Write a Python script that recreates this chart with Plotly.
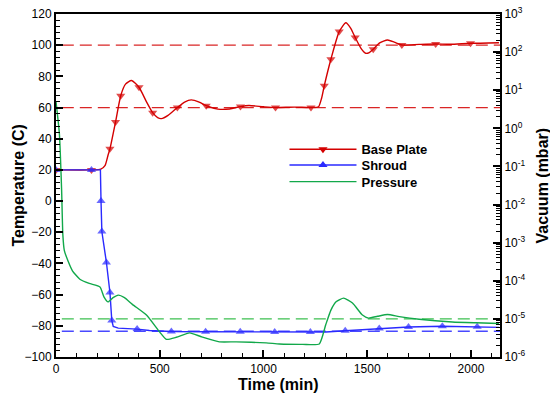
import plotly.graph_objects as go

# ---- data ----
base_t = [0, 171, 216, 236, 251, 260, 287, 312, 335, 364, 400, 435, 466, 490, 508, 540, 585, 620, 652,
          690, 724, 780, 837, 889, 930, 1000, 1058, 1150, 1229, 1265, 1280, 1293, 1325, 1365, 1397, 1420,
          1442, 1470, 1493, 1510, 1529, 1560, 1598, 1630, 1667, 1750, 1830, 1900, 1998, 2135]
base_T = [20, 20, 20.5, 22.7, 29.6, 33.5, 50.8, 67.6, 75, 77.3, 73, 64, 56.7, 53.5, 52.9, 55, 60, 63.5, 64.9,
          63.5, 61.2, 59, 59.1, 60.6, 61.3, 60.5, 60, 60.3, 60, 60.5, 66, 74, 91, 108.7, 114.4, 111,
          105, 98, 94.8, 95.3, 97.4, 101.5, 103.3, 102, 100.1, 100.5, 100.8, 100.6, 101.2, 101.6]
base_marker_t = [0, 171, 260, 287, 312, 400, 466, 585, 724, 889, 1058, 1229, 1293, 1325, 1365, 1442,
                 1529, 1667, 1830, 1998]

shroud_t = [0, 171, 214, 217, 221, 243, 260, 269, 276, 300, 391, 450, 556, 721, 888, 1054, 1226, 1300,
            1394, 1480, 1558, 1699, 1862, 2030, 2135]
shroud_T = [20, 20, 20, 0, -19.5, -39.4, -58.6, -76.6, -80.4, -81.5, -82.1, -83, -83.6, -83.8, -83.8, -84,
            -84, -84, -83.2, -82.5, -81.8, -80.8, -80.3, -80.6, -81]
shroud_marker_t = [0, 171, 217, 221, 243, 260, 269, 391, 556, 721, 888, 1054, 1226, 1394, 1558, 1699,
                   1862, 2030]

press_t = [0, 16, 27, 33, 40, 59, 80, 115, 160, 212, 231, 251, 275, 300, 330, 368, 436, 500, 532, 580,
           644, 700, 788, 869, 1013, 1077, 1189, 1269, 1300, 1325, 1350, 1386, 1429, 1477, 1506, 1550,
           1598, 1654, 1750, 1910, 2023, 2135]
press_P = [5.0, 0.76, 0.025, 1.6e-3, 6.3e-4, 3.2e-4, 1.8e-4, 1.1e-4, 8.5e-5, 6.9e-5, 3.8e-5, 2.8e-5,
           3.6e-5, 4.2e-5, 3.6e-5, 2.4e-5, 1.26e-5, 4.5e-6, 2.9e-6, 3.3e-6,
           4.3e-6, 3.4e-6, 2.5e-6, 2.5e-6, 2.35e-6, 2.2e-6, 2.15e-6, 2.2e-6, 7.0e-6, 1.7e-5, 2.8e-5,
           3.5e-5, 2.6e-5, 1.26e-5, 1.05e-5, 1.17e-5, 1.3e-5, 1.15e-5, 9.8e-6, 8.3e-6, 7.9e-6, 7.6e-6]

setpoint_t = [28, 2140]
base_setpoints = [60, 100]
shroud_setpoint = -83.5
pressure_setpoint = 1e-5

x_ticks = [0, 500, 1000, 1500, 2000]
y_ticks = [-100, -80, -60, -40, -20, 0, 20, 40, 60, 80, 100, 120]
y2_exps = [-6, -5, -4, -3, -2, -1, 0, 1, 2, 3]

RED = '#d40000'
BLUE = '#2a2aff'
GREEN = '#12a84a'
FONT = 'Liberation Sans, Arial, sans-serif'

fig = go.Figure()

# setpoint dashed lines
for v in base_setpoints:
    fig.add_trace(go.Scatter(x=setpoint_t, y=[v, v], mode='lines', showlegend=False,
                             line=dict(color=RED, width=1.3, dash='12px,6px'), opacity=0.85))
fig.add_trace(go.Scatter(x=setpoint_t, y=[shroud_setpoint] * 2, mode='lines', showlegend=False,
                         line=dict(color=BLUE, width=1.3, dash='12px,6px'), opacity=0.85))
fig.add_trace(go.Scatter(x=setpoint_t, y=[pressure_setpoint] * 2, yaxis='y2', mode='lines',
                         showlegend=False, line=dict(color='#3cc050', width=1.3, dash='12px,6px')))


def sizes(ts, marks, s):
    return [s if t in marks else 0 for t in ts]


fig.add_trace(go.Scatter(x=base_t, y=base_T, name='Base Plate', mode='lines+markers', showlegend=False,
                         line=dict(color=RED, width=1.4, shape='spline', smoothing=0.6),
                         marker=dict(symbol='triangle-down', color=RED,
                                     size=sizes(base_t, base_marker_t, 8), line=dict(width=0))))
fig.add_trace(go.Scatter(x=shroud_t, y=shroud_T, name='Shroud', mode='lines+markers', showlegend=False,
                         line=dict(color=BLUE, width=1.4),
                         marker=dict(symbol='triangle-up', color=BLUE,
                                     size=sizes(shroud_t, shroud_marker_t, 8), line=dict(width=0))))
fig.add_trace(go.Scatter(x=press_t, y=press_P, name='Pressure', yaxis='y2', mode='lines', showlegend=False,
                         line=dict(color=GREEN, width=1.4, shape='spline', smoothing=0.5)))

# legend entries (one legend each, to control row spacing)
fig.add_trace(go.Scatter(x=[None], y=[None], name='Base Plate', mode='lines+markers', legend='legend',
                         line=dict(color=RED, width=1.4),
                         marker=dict(symbol='triangle-down', color=RED, size=8)))
fig.add_trace(go.Scatter(x=[None], y=[None], name='Shroud', mode='lines+markers', legend='legend2',
                         line=dict(color=BLUE, width=1.4),
                         marker=dict(symbol='triangle-up', color=BLUE, size=8)))
fig.add_trace(go.Scatter(x=[None], y=[None], name='Pressure', mode='lines', legend='legend3',
                         line=dict(color=GREEN, width=1.4)))

leg_common = dict(x=0.5146, xanchor='left', yanchor='middle', bgcolor='rgba(0,0,0,0)',
                  font=dict(family=FONT, size=13, color='black', weight='bold'), itemwidth=67)

title_font = dict(family=FONT, size=16, color='black', weight='bold')
tick_font = dict(family=FONT, size=12, color='black')

fig.update_layout(
    width=550, height=394,
    margin=dict(l=56, r=50, t=14, b=37, autoexpand=False),
    paper_bgcolor='white', plot_bgcolor='white',
    font=dict(family=FONT, size=13, color='black'),
    showlegend=True,
    legend=dict(y=0.6055, **leg_common),
    legend2=dict(y=0.5598, **leg_common),
    legend3=dict(y=0.5111, **leg_common),
    xaxis=dict(range=[0, 2140], tickvals=x_ticks, ticks='inside', ticklen=7, tickwidth=1.5,
               tickcolor='black', showline=True, linecolor='black', linewidth=2, mirror=True,
               showgrid=False, zeroline=False, tickfont=tick_font,
               minor=dict(dtick=100, ticks='inside', ticklen=4, tickcolor='black', tickwidth=1)),
    yaxis=dict(range=[-100, 120], tickvals=y_ticks, ticks='inside', ticklen=7, tickwidth=1.5,
               tickcolor='black', showline=True, linecolor='black', linewidth=2,
               showgrid=False, zeroline=False, tickfont=tick_font,
               minor=dict(dtick=4, ticks='inside', ticklen=4, tickcolor='black', tickwidth=1)),
    yaxis2=dict(type='log', range=[-6, 3], overlaying='y', side='right', anchor='x',
                tickvals=[10 ** e for e in y2_exps],
                ticktext=['10<sup>%d</sup>' % e for e in y2_exps],
                ticks='inside', ticklen=7, tickwidth=1.5, tickcolor='black', tickfont=tick_font,
                showline=True, linecolor='black', linewidth=2, showgrid=False, zeroline=False,
                minor=dict(dtick='D1', ticks='inside', ticklen=4, tickcolor='black', tickwidth=1)),
    annotations=[
        dict(text='Time (min)', xref='paper', yref='paper', x=0.5, y=0, yshift=-37, borderpad=0,
             xanchor='center', yanchor='bottom', showarrow=False, font=title_font),
        dict(text='Temperature (C)', xref='paper', yref='paper', x=0, xshift=-38, y=0.5,
             xanchor='center', yanchor='middle', textangle=-90, showarrow=False, font=title_font),
        dict(text='Vacuum (mbar)', xref='paper', yref='paper', x=1, xshift=42, y=0.5,
             xanchor='center', yanchor='middle', textangle=-90, showarrow=False, font=title_font),
    ],
)

fig.write_html('out.html', config={'displayModeBar': False},
               post_script="document.body.style.margin='0';")
